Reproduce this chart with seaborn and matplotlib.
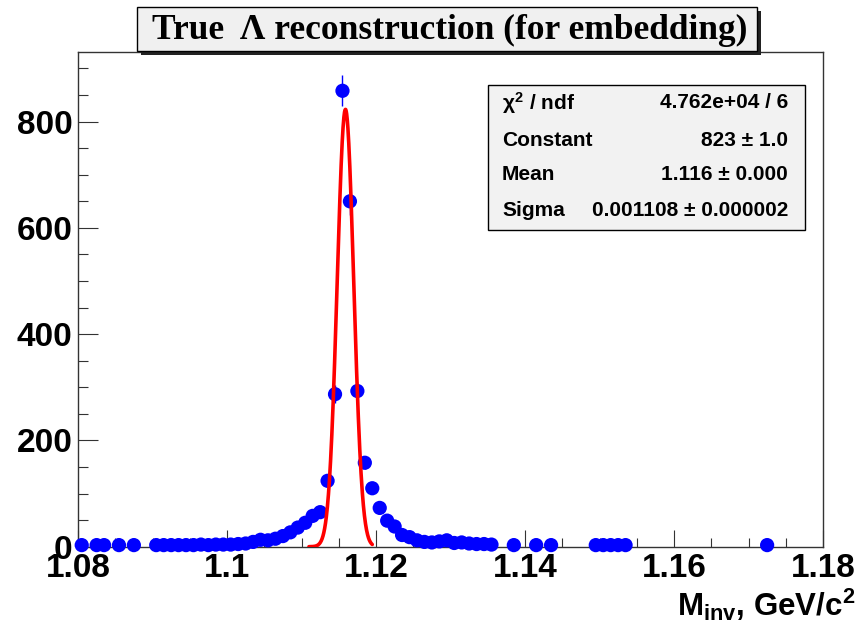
import numpy as np
import pandas as pd
import matplotlib
matplotlib.use("Agg")
import matplotlib.pyplot as plt
import seaborn as sns
from matplotlib.patches import Rectangle
from matplotlib.ticker import MultipleLocator

# ---------------- data ----------------
x_lo, x_hi, n_bins = 1.08, 1.18, 100
counts = [
    3, 0, 3, 3, 0, 3, 0, 3, 0, 0,          # 1.080 - 1.090
    3, 3, 3, 3, 3, 3, 4, 3, 4, 4,          # 1.090 - 1.100
    4, 5, 6, 9, 13, 12, 15, 20, 27, 36,    # 1.100 - 1.110
    45, 58, 65, 124, 287, 858, 650, 293, 158, 110,  # 1.110 - 1.120
    73, 49, 38, 22, 18, 12, 9, 8, 10, 12,  # 1.120 - 1.130
    7, 8, 6, 5, 5, 4, 0, 0, 3, 0,          # 1.130 - 1.140
    0, 3, 0, 3, 0, 0, 0, 0, 0, 3,          # 1.140 - 1.150
    3, 3, 3, 3, 0, 0, 0, 0, 0, 0,          # 1.150 - 1.160
    0, 0, 0, 0, 0, 0, 0, 0, 0, 0,          # 1.160 - 1.170
    0, 0, 3, 0, 0, 0, 0, 0, 0, 0,          # 1.170 - 1.180
]
fit_const, fit_mean, fit_sigma = 823.0, 1.1159, 0.001108
fit_lo, fit_hi = 1.111, 1.1195
y_max = 931

title_text = "True  Λ reconstruction (for embedding)"
stat_names = [r"$\chi^{2}$ / ndf", "Constant", "Mean", "Sigma"]
stat_values = ["4.762e+04 / 6", "823 ± 1.0", "1.116 ± 0.000", "0.001108 ± 0.000002"]
x_ticks = [1.08, 1.10, 1.12, 1.14, 1.16, 1.18]
x_tick_labels = ["1.08", "1.1", "1.12", "1.14", "1.16", "1.18"]
y_ticks = [0, 200, 400, 600, 800]
x_title = r"$\mathbf{M_{inv}}$, GeV/c$^{\mathbf{2}}$"

# ---------------- style ----------------
sns.set_theme(style="white")
plt.rcParams["font.family"] = ["Liberation Sans", "DejaVu Sans"]
plt.rcParams["mathtext.fontset"] = "custom"
plt.rcParams["mathtext.rm"] = "Liberation Sans:bold"
plt.rcParams["mathtext.bf"] = "Liberation Sans:bold"
plt.rcParams["mathtext.it"] = "Liberation Sans:bold"

W, H = 862, 629
fig = plt.figure(figsize=(W / 100, H / 100), dpi=100)
fig.patch.set_facecolor("white")

def fx(px):
    return px / W

def fy(py):
    return 1 - py / H

ax_l, ax_r, ax_b, ax_t = 78, 823, 546.7, 52
ax = fig.add_axes([fx(ax_l), fy(ax_b), (ax_r - ax_l) / W, (ax_b - ax_t) / H])
ax.set_facecolor("white")

edges = np.linspace(x_lo, x_hi, n_bins + 1)
centers = 0.5 * (edges[:-1] + edges[1:])
df = pd.DataFrame({"x": centers, "y": counts})
df = df[df["y"] > 0].reset_index(drop=True)
df["err"] = np.sqrt(df["y"])

# error bars
ax.errorbar(df["x"], df["y"], yerr=df["err"], fmt="none", ecolor="#0000ff",
            elinewidth=1.0, capsize=0, zorder=2, clip_on=False)
# markers
sns.scatterplot(data=df, x="x", y="y", ax=ax, color="#0000ff", s=105,
                edgecolor="none", linewidth=0, zorder=3, clip_on=False,
                legend=False)

# gaussian fit curve
xf = np.linspace(fit_lo, fit_hi, 300)
fit_df = pd.DataFrame({"x": xf,
                       "y": fit_const * np.exp(-0.5 * ((xf - fit_mean) / fit_sigma) ** 2)})
sns.lineplot(data=fit_df, x="x", y="y", ax=ax, color="#ff0000", linewidth=2.6,
             zorder=4, sort=False)

ax.set_xlim(x_lo, x_hi)
ax.set_ylim(0, y_max)
ax.set_xlabel("")
ax.set_ylabel("")

ax.set_xticks(x_ticks)
ax.set_xticklabels(x_tick_labels)
ax.xaxis.set_minor_locator(MultipleLocator(0.005))
ax.set_yticks(y_ticks)
ax.yaxis.set_minor_locator(MultipleLocator(50))

for lab in ax.get_xticklabels() + ax.get_yticklabels():
    lab.set_fontweight("bold")
    lab.set_fontsize(24)
    lab.set_color("black")

ax.tick_params(axis="x", which="major", direction="in", length=12.2, width=0.8,
               color="#333333", pad=4.5, top=False, bottom=True)
ax.tick_params(axis="x", which="minor", direction="in", length=6.5, width=0.8,
               color="#333333", top=False, bottom=True)
ax.tick_params(axis="y", which="major", direction="in", length=14.4, width=0.8,
               color="#333333", pad=4.0, left=True, right=False)
ax.tick_params(axis="y", which="minor", direction="in", length=7.2, width=0.8,
               color="#333333", left=True, right=False)
for sp in ax.spines.values():
    sp.set_visible(True)
    sp.set_color("#333333")
    sp.set_linewidth(1.0)

# x-axis title
fig.text(fx(855), fy(605), x_title, ha="right", va="center", fontsize=22.5,
         fontweight="bold", color="black")

# ---------------- title box ----------------
tb_l, tb_r, tb_t, tb_b = 137, 757, 7, 51
sh = 4
fig.patches.append(Rectangle((fx(tb_l + sh), fy(tb_b + sh)), (tb_r - tb_l) / W,
                             (tb_b - tb_t) / H, transform=fig.transFigure,
                             facecolor="#222222", edgecolor="none", zorder=5))
fig.patches.append(Rectangle((fx(tb_l), fy(tb_b)), (tb_r - tb_l) / W,
                             (tb_b - tb_t) / H, transform=fig.transFigure,
                             facecolor="#f0f0f0", edgecolor="black",
                             linewidth=1.0, zorder=6))
fig.text(fx((tb_l + tb_r) / 2 + 3), fy((tb_t + tb_b) / 2 + 1), title_text,
         ha="center", va="center", fontsize=25.5, fontweight="bold",
         family=["Liberation Serif", "DejaVu Serif"], color="black", zorder=7)

# ---------------- stats box ----------------
sb_l, sb_r, sb_t, sb_b = 488, 805, 85, 230
ax.add_patch(Rectangle((fx(sb_l), fy(sb_b)), (sb_r - sb_l) / W, (sb_b - sb_t) / H,
                       transform=fig.transFigure, facecolor="#f2f2f2",
                       edgecolor="black", linewidth=1.0, zorder=10, clip_on=False))
row_y = [103, 140, 175, 210]
for name, val, yy in zip(stat_names, stat_values, row_y):
    fig.text(fx(502), fy(yy), name, ha="left", va="center", fontsize=15,
             fontweight="bold", color="black", zorder=11)
    fig.text(fx(788), fy(yy), val, ha="right", va="center", fontsize=15,
             fontweight="bold", color="black", zorder=11)

fig.savefig("out.png", dpi=100, facecolor="white")
